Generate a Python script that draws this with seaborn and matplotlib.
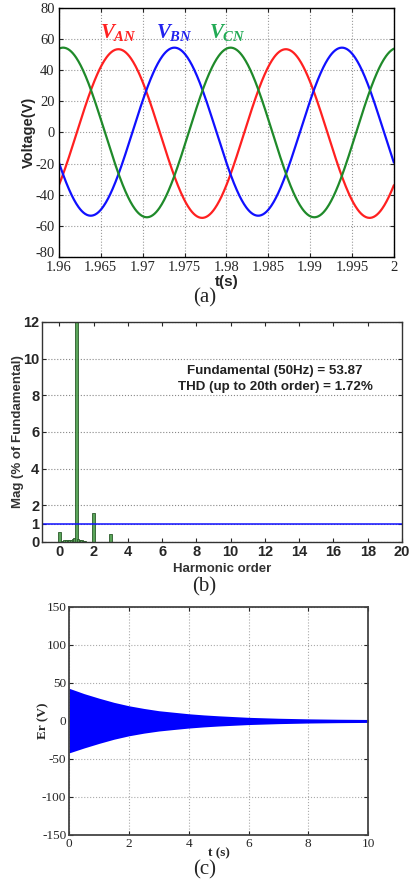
import numpy as np
import pandas as pd
import matplotlib
matplotlib.use("Agg")
import matplotlib.pyplot as plt
import matplotlib.transforms as mtransforms
import seaborn as sns

sns.set_style("ticks")
plt.rcParams["mathtext.fontset"] = "custom"
plt.rcParams["mathtext.it"] = "Liberation Serif:italic:bold"
plt.rcParams["mathtext.rm"] = "Liberation Serif:bold"
plt.rcParams["axes.unicode_minus"] = False

# (a) three phase voltages
phase_names = ["VAN", "VBN", "VCN"]
phase_amp = [54.2, 54.0, 54.5]
phase_offset = [-0.7, 0.5, 0.0]
phase_peak_t = [1.9671, 1.9738, 1.9805]
grid_freq = 50.0
t_start, t_end = 1.96, 2.0
a_xticks = [1.96, 1.965, 1.97, 1.975, 1.98, 1.985, 1.99, 1.995, 2.0]
a_xticklabels = ["1.96", "1.965", "1.97", "1.975", "1.98", "1.985", "1.99", "1.995", "2"]
a_yticks = [-80, -60, -40, -20, 0, 20, 40, 60, 80]

# (b) harmonic spectrum
harm_order = [0.0, 0.2, 0.3, 0.4, 0.5, 0.6, 0.7, 0.8, 0.9, 1.0,
              1.1, 1.2, 1.3, 1.4, 1.5, 2.0, 3.0]
harm_mag = [0.53, 0.06, 0.08, 0.1, 0.1, 0.12, 0.1, 0.15, 0.2, 100.0,
            0.15, 0.12, 0.1, 0.07, 0.05, 1.57, 0.45]
fundamental_txt = "Fundamental (50Hz) = 53.87\nTHD (up to 20th order) = 1.72%"
b_yticks = [0, 1, 2, 4, 6, 8, 10, 12]
b_xticks = list(range(0, 21, 2))

# (c) error envelope
er_t = [0, 0.5, 1, 1.5, 2, 2.5, 3, 3.5, 4, 4.5, 5, 6, 7, 8, 9, 10]
er_upper = [43, 36, 30, 24.5, 20, 16.5, 13.5, 11.5, 9.5, 8.0, 6.8, 4.8, 3.6, 2.8, 2.3, 2.0]
er_lower = [-42, -35.5, -29.5, -24, -19.5, -16, -13.2, -11.2, -9.3, -7.8, -6.6, -4.7, -3.5, -2.7, -2.2, -1.9]

red, blue, green = "#ff2020", "#1010ff", "#1f8a2a"

fig = plt.figure(figsize=(4.09, 8.86), dpi=100)

# ---------- (a)
axa = fig.add_axes([0.144, 0.710, 0.819, 0.281])
t = np.linspace(t_start, t_end, 600)
rows = []
for name, amp, off, tp in zip(phase_names, phase_amp, phase_offset, phase_peak_t):
    v = off + amp * np.cos(2 * np.pi * grid_freq * (t - tp))
    rows.append(pd.DataFrame({"t": t, "v": v, "phase": name}))
df_a = pd.concat(rows)
sns.lineplot(data=df_a, x="t", y="v", hue="phase", palette=[red, blue, green],
             linewidth=1.6, legend=False, ax=axa, estimator=None)
axa.set_xlim(t_start, t_end)
axa.set_ylim(-80, 80)
axa.set_xticks(a_xticks)
axa.set_xticklabels(a_xticklabels)
axa.set_yticks(a_yticks)
for lab in axa.get_xticklabels() + axa.get_yticklabels():
    lab.set_family("Liberation Serif")
    lab.set_fontsize(10.5)
axa.tick_params(direction="in", top=True, right=True, length=3)
axa.tick_params(axis="x", pad=3)
axa.tick_params(axis="y", pad=3)
# nudge the bottom y label up a little so it clears the first x label
lab80 = axa.yaxis.get_major_ticks()[0].label1
lab80.set_transform(lab80.get_transform() +
                    mtransforms.ScaledTranslation(0, 0.045, fig.dpi_scale_trans))
axa.grid(True, linestyle=":", color="#999999", linewidth=0.8)
axa.set_xlabel("t(s)", family="Liberation Sans", weight="bold", fontsize=11, labelpad=0.5)
axa.set_ylabel("Voltage(V)", family="Liberation Sans", weight="bold", fontsize=10.5, labelpad=0)
for s in axa.spines.values():
    s.set_linewidth(1.0)
    s.set_color("black")
axa.text(1.9671, 64, r"$V_{AN}$", color=red, fontsize=15, ha="center", va="center")
axa.text(1.9738, 64, r"$V_{BN}$", color="#2222ee", fontsize=15, ha="center", va="center")
axa.text(1.9801, 64, r"$V_{CN}$", color="#22aa55", fontsize=15, ha="center", va="center")
fig.text(0.5, 1 - 298 / 886, "(a)", family="Liberation Serif", fontsize=15, ha="center", va="center")

# ---------- (b)
axb = fig.add_axes([0.103, 0.3883, 0.880, 0.2483])
axb.bar(harm_order, harm_mag, width=0.15, color="#5aa55a", edgecolor="#2a5a2a", linewidth=0.6)
axb.axhline(1, color="#1010ff", linewidth=1.1)
axb.set_xlim(-1, 20)
axb.set_ylim(0, 12)
axb.set_xticks(b_xticks)
axb.set_yticks(b_yticks)
axb.grid(True, axis="y", linestyle=":", color="#888888", linewidth=0.8)
axb.set_axisbelow(True)
for lab in axb.get_xticklabels() + axb.get_yticklabels():
    lab.set_family("Liberation Sans")
    lab.set_weight("bold")
    lab.set_fontsize(10.5)
axb.tick_params(direction="in", top=True, right=True, length=3, pad=2)
axb.set_xlabel("Harmonic order", family="Liberation Sans", weight="bold", fontsize=9.5,
               color="#333333", labelpad=3)
axb.set_ylabel("Mag (% of Fundamental)", family="Liberation Sans", weight="bold", fontsize=9.5,
               color="#333333", labelpad=-1)
for s in axb.spines.values():
    s.set_linewidth(1.0)
    s.set_color("#333333")
axb.text(12.6, 8.9, fundamental_txt, family="Liberation Sans", weight="bold", fontsize=9.6,
         ha="center", va="center", linespacing=1.4, color="#222222")
fig.text(0.5, 1 - 587 / 886, "(b)", family="Liberation Serif", fontsize=15, ha="center", va="center")

# ---------- (c)
axc = fig.add_axes([0.169, 0.0576, 0.731, 0.2573])
axc.fill_between(er_t, er_lower, er_upper, color="#0000ff", linewidth=0)
axc.set_xlim(0, 10)
axc.set_ylim(-150, 150)
axc.set_xticks(range(0, 11, 2))
axc.set_yticks(range(-150, 151, 50))
for lab in axc.get_xticklabels() + axc.get_yticklabels():
    lab.set_family("Liberation Serif")
    lab.set_fontsize(9.5)
axc.tick_params(direction="in", top=True, right=True, length=3, pad=2)
axc.grid(True, linestyle=":", color="#aaaaaa", linewidth=0.8)
axc.set_xlabel("t (s)", family="Liberation Serif", weight="bold", fontsize=9.5, labelpad=-2)
axc.set_ylabel("Er (V)", family="Liberation Serif", weight="bold", fontsize=9.5)
axc.yaxis.set_label_coords(-0.067, 0.5)
for s in axc.spines.values():
    s.set_linewidth(1.3)
    s.set_color("#444444")
fig.text(0.5, 1 - 870 / 886, "(c)", family="Liberation Serif", fontsize=15, ha="center", va="center")

fig.savefig("out.png", dpi=100)
